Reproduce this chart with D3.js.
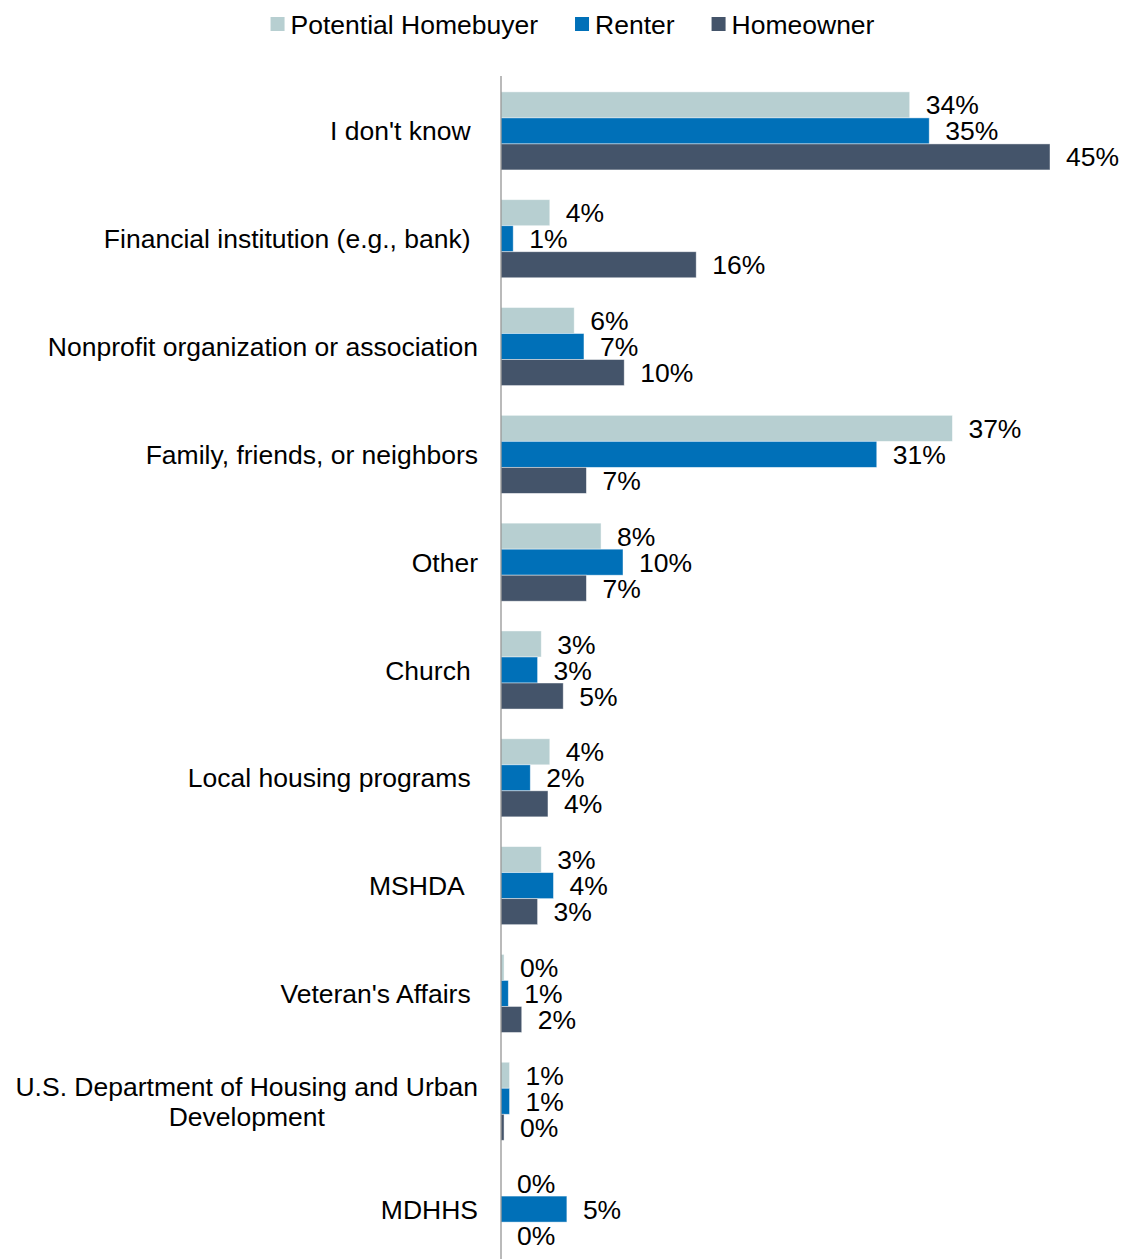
<!DOCTYPE html>
<html>
<head>
<meta charset="utf-8">
<script src="https://cdn.jsdelivr.net/npm/d3@7"></script>
<style>
  html, body { margin: 0; padding: 0; background: #fff; }
  svg text { font-family: "Liberation Sans", Arial, sans-serif; fill: #000; }
</style>
</head>
<body>
<svg id="chart" width="1121" height="1259"></svg>
<script>
// Where respondents would go for homebuying information, by respondent group (%)
const categories = [
  "I don't know ",
  "Financial institution (e.g., bank) ",
  "Nonprofit organization or association",
  "Family, friends, or neighbors",
  "Other",
  "Church ",
  "Local housing programs ",
  "MSHDA  ",
  "Veteran's Affairs ",
  "U.S. Department of Housing and Urban|Development",
  "MDHHS"
];
const seriesNames = ["Potential Homebuyer", "Renter", "Homeowner"];
const potentialHomebuyer = [33.5, 4.0, 6.0, 37.0, 8.2, 3.3, 4.0, 3.3, 0.25, 0.7, 0];
const renter             = [35.1, 1.0, 6.8, 30.8, 10.0, 3.0, 2.4, 4.3, 0.6, 0.7, 5.4];
const homeowner          = [45.0, 16.0, 10.1, 7.0, 7.0, 5.1, 3.85, 3.0, 1.7, 0.25, 0];
const seriesColors = ["#B7CFD1", "#0070B8", "#44546A"];

const seriesValues = [potentialHomebuyer, renter, homeowner];
const rows = categories.map((c, i) => ({
  category: c,
  values: seriesNames.map((s, j) => ({ series: s, value: seriesValues[j][i] }))
}));

const svg = d3.select("#chart");
const fontSize = 26.5;

const y = d3.scaleBand()
  .domain(categories)
  .range([77, 1263])
  .paddingInner(0.276)
  .paddingOuter(0.138);

const ySub = d3.scaleBand()
  .domain(seriesNames)
  .range([0, y.bandwidth()]);

const x = d3.scaleLinear().domain([0, 50]).range([501, 1111]);
const color = d3.scaleOrdinal().domain(seriesNames).range(seriesColors);

// Bars
const groups = svg.append("g").selectAll("g")
  .data(rows)
  .join("g")
  .attr("transform", d => `translate(0,${y(d.category)})`);

groups.selectAll("rect")
  .data(d => d.values)
  .join("rect")
  .attr("x", x(0))
  .attr("y", d => ySub(d.series))
  .attr("width", d => x(d.value) - x(0))
  .attr("height", ySub.bandwidth())
  .attr("fill", d => color(d.series))
  .attr("stroke", d => d.value > 0 ? "rgba(255,255,255,0.55)" : "none")
  .attr("stroke-width", 0.8);

// Value labels
groups.selectAll("text.value")
  .data(d => d.values)
  .join("text")
  .attr("class", "value")
  .attr("x", d => x(d.value) + 16)
  .attr("y", d => ySub(d.series) + ySub.bandwidth() / 2)
  .attr("dy", "0.36em")
  .style("font-size", fontSize + "px")
  .text(d => Math.round(d.value) + "%");

// Vertical category axis (line only)
const yAxis = d3.axisLeft(y).tickSize(0).tickFormat("");
const axisG = svg.append("g")
  .attr("transform", `translate(${x(0)},0)`)
  .call(yAxis);
axisG.select(".domain").attr("stroke", "#8C8C8C").attr("stroke-width", 1.2)
  .attr("d", `M0,76V1259`);

// Category labels, right-aligned to the label box, multi-line labels centred
const labelRight = 478;
const catG = svg.append("g");
rows.forEach(r => {
  const lines = r.category.split("|");
  const cy = y(r.category) + y.bandwidth() / 2;
  const lineH = 30;
  const t = catG.append("text")
    .style("font-size", fontSize + "px")
    .style("white-space", "pre")
    .attr("text-anchor", lines.length > 1 ? "middle" : "end");
  lines.forEach((ln, k) => {
    t.append("tspan")
      .attr("y", cy + (k - (lines.length - 1) / 2) * lineH)
      .attr("dy", "0.36em")
      .text(ln);
  });
  if (lines.length > 1) {
    let maxW = 0;
    t.selectAll("tspan").each(function () { maxW = Math.max(maxW, this.getComputedTextLength()); });
    t.selectAll("tspan").attr("x", labelRight - maxW / 2);
  } else {
    t.selectAll("tspan").attr("x", labelRight);
  }
});

// Legend
const legend = svg.append("g");
const sw = 14, gapText = 6, gapItem = 37;
let lx = 0;
seriesNames.forEach(s => {
  const item = legend.append("g").attr("transform", `translate(${lx},0)`);
  item.append("rect").attr("x", 0).attr("y", 17).attr("width", sw).attr("height", sw).attr("fill", color(s));
  const tx = item.append("text").attr("x", sw + gapText).attr("y", 24).attr("dy", "0.36em")
    .style("font-size", fontSize + "px").text(s);
  lx += sw + gapText + tx.node().getComputedTextLength() + gapItem;
});
const legendW = lx - gapItem;
legend.attr("transform", `translate(${572.5 - legendW / 2},0)`);
</script>
</body>
</html>
